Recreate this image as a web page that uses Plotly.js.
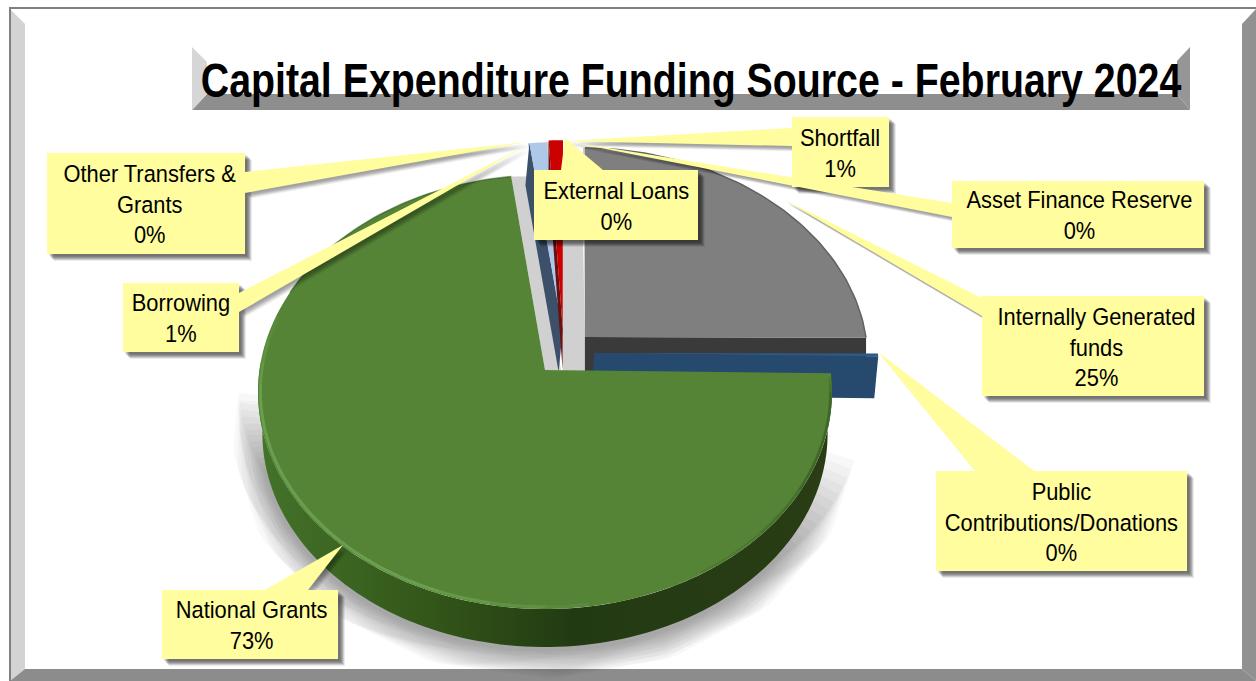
<!DOCTYPE html>
<html>
<head>
<meta charset="utf-8">
<script src="https://cdn.plot.ly/plotly-3.0.1.min.js"></script>
<style>html,body{margin:0;padding:0;background:#fff}#chart{width:1256px;height:681px}</style>
</head>
<body>
<div id="chart"></div>
<script>
// ---- data (clockwise from twelve o'clock) ----
const fundingSources = ['Internally Generated<br>funds', 'Public<br>Contributions/Donations', 'National Grants',
  'Other Transfers &<br>Grants', 'Borrowing', 'External Loans', 'Shortfall', 'Asset Finance Reserve'];
const fundingShares = [24.8, 0.2, 72.6, 0.1, 1.1, 0.1, 0.9, 0.1];
const shareLabels = ['25%', '0%', '73%', '0%', '1%', '0%', '1%', '0%'];

// ---- style: face colours, explosion offsets (pie radii) ----
const faceColors = ['#7f7f7f', '#2d5a86', '#558436', '#9dc3e6', '#aec8e8', '#c5c5c5', '#cc0000', '#bdbdbd'];
const explodeRight = [0.142, 0.175, 0, 0.063, 0.063, 0.063, 0.063, 0.142];
const explodeUp = [0.156, 0.08, 0, 0.19, 0.19, 0.19, 0.20, 0.156];

// ---- label boxes: x0, y0, x1, y1 then callout triangle ----
const labelBoxes = [
  [982, 296, 1204, 396], [936, 471, 1187, 571], [162, 590, 338, 659], [47, 153, 245, 254],
  [123, 283, 239, 352], [534, 170, 698, 240], [792, 117, 889, 187], [952, 181, 1204, 248]];
const calloutTips = [
  [[982, 298], [982, 316], [783, 199]], [[975, 471], [1034, 471], [878, 352]], [[265, 590], [308, 590], [343, 545]],
  [[245, 172], [245, 193], [527, 142]], [[239, 293], [239, 312], [527, 145]], [[561, 170], [603, 170], [565, 138]],
  [[792, 128], [792, 146], [565, 141]], [[952, 203], [952, 217], [565, 141]]];
const labelNudge = [3.5, 0, 1.5, 3.5, 0, 0, -1, 1];
const labelOrder = [0, 1, 2, 3, 4, 7, 6, 5];
const labelFont = 'Liberation Sans, Arial, sans-serif';

// ---- tilted-disc projection used to place slices on the hidden pixel axes ----
const cx = 545, cy = 370, R = 285.5, H = 214.8, k = 0.1014, depth = 42, firstAngle = 0.8;
function project(u, v) { const w = 1 + k * v; return [cx + R * u / w, cy - H * v / w]; }
const total = fundingShares.reduce((a, b) => a + b, 0);
const startAngles = []; let running = 0;
fundingShares.forEach(s => { startAngles.push(firstAngle + running / total * 360); running += s; });
const endAngle = i => startAngles[i] + fundingShares[i] / total * 360;
const rad = d => d * Math.PI / 180;
function rimPoint(i, deg, rho = 1) {
  return project(explodeRight[i] + rho * Math.sin(rad(deg)), explodeUp[i] + rho * Math.cos(rad(deg)));
}
function arc(i, a, b, rho = 1) {
  const n = Math.max(2, Math.ceil(Math.abs(b - a) / 1.5)), pts = [];
  for (let j = 0; j <= n; j++) pts.push(rimPoint(i, a + (b - a) * j / n, rho));
  return pts;
}
const apex = i => rimPoint(i, 0, 0);
const shift = (pts, dx, dy) => pts.map(p => [p[0] + dx, p[1] + dy]);
function poly(pts, color, name, extra) {
  return Object.assign({ type: 'scatter', mode: 'none', fill: 'toself', fillcolor: color,
    x: pts.map(p => p[0]).concat(pts[0][0]), y: pts.map(p => p[1]).concat(pts[0][1]),
    name: name, hoverinfo: 'name' }, extra || {});
}
function stroke(pts, color, width, name) {
  return { type: 'scatter', mode: 'lines', x: pts.map(p => p[0]), y: pts.map(p => p[1]),
    line: { color: color, width: width }, name: name, hoverinfo: 'skip' };
}
function faceOf(i) {
  const name = fundingSources[i].replace('<br>', ' ') + ' ' + shareLabels[i];
  return poly([apex(i)].concat(arc(i, startAngles[i], endAngle(i))), faceColors[i], name);
}
function wallOf(i, deg, dx, dy, color, rho = 1) {
  const a = apex(i), r = rimPoint(i, deg, rho);
  return poly([a, r, [r[0] + dx, r[1] + dy], [a[0] + dx, a[1] + dy]], color, 'wall');
}

const [iInt, iPub, iNat, iOth, iBor, iExt, iSho, iAss] = [0, 1, 2, 3, 4, 5, 6, 7];
const natStart = startAngles[iNat], natEnd = endAngle(iNat);
const traces = [];
// soft shadow beneath the disc: wider strokes stop sooner so the ends fade out
for (let s = 0; s < 14; s++) {
  traces.push(stroke(shift(arc(iNat, 100 + (13 - s) * 2.2, 275 - (13 - s) * 1.5, 0.985), 0, depth + 2),
    'rgba(0,0,0,0.028)', 6 + s * 4, 'shadow'));
}
// internally generated
const strip = rimPoint(iInt, 0, 0.8);
traces.push(poly([apex(iInt), strip, [strip[0] - 22, strip[1]], [apex(iInt)[0] - 22, apex(iInt)[1] + 36],
  [apex(iInt)[0], apex(iInt)[1] + 36]], '#d0d0d0', 'wall'));
traces.push(wallOf(iInt, endAngle(iInt), 0, depth, '#3a3a3a'));
traces.push(faceOf(iInt));
traces.push(stroke(arc(iInt, startAngles[iInt], endAngle(iInt)), '#626262', 1.5, 'rim'));
// public contributions
traces.push(wallOf(iPub, endAngle(iPub), -4, depth, '#264a6e'));
traces.push(faceOf(iPub));
// end wall of the national grants slice
traces.push(wallOf(iNat, natEnd, 16, 0, '#d0d0d0'));
// borrowing, loans, shortfall
traces.push(faceOf(iOth));
traces.push(wallOf(iBor, startAngles[iBor], -4, depth, '#3c5169'));
traces.push(faceOf(iBor));
traces.push(faceOf(iExt));
traces.push(wallOf(iSho, startAngles[iSho], 0, depth, '#6b0f0f'));
traces.push(faceOf(iSho));
traces.push(faceOf(iAss));
// national grants
const natFront = arc(iNat, natStart, 272);
const natLower = shift(arc(iNat, natStart, 272, 0.985), 0, depth);
traces.push(poly(natFront.concat(natLower.reverse()), '#2a3f16', 'wall', {
  fillgradient: { type: 'horizontal', colorscale: [[0, '#44732a'], [0.3, '#335619'], [0.55, '#223a12'], [1, '#2a3d15']] }
}));
traces.push(faceOf(iNat));
[[172, 285, 0.12], [180, 278, 0.14], [190, 272, 0.16], [200, 266, 0.18]].forEach(h =>
  traces.push(stroke(arc(iNat, h[0], h[1], 0.992), 'rgba(128,190,105,' + h[2] + ')', 3, 'rim')));
[[92, 150, 0.16], [94, 135, 0.18], [96, 122, 0.2]].forEach(h =>
  traces.push(stroke(arc(iNat, h[0], h[1], 0.995), 'rgba(40,70,25,' + h[2] + ')', 2.5, 'rim')));
traces.push(stroke(arc(iNat, 292, natEnd), 'rgba(50,85,30,0.55)', 1.5, 'rim'));

// ---- frame, title plate, callouts ----
const polyPath = pts => 'M' + pts.map(p => p[0] + ',' + p[1]).join('L') + 'Z';
const flat = (pts, color, layer) => ({ type: 'path', path: polyPath(pts), fillcolor: color,
  line: { width: 0 }, layer: layer || 'below', xref: 'x', yref: 'y' });
const shapes = [
  flat([[10, 9], [25, 24], [25, 669], [10, 681]], '#d3d3d3'),
  flat([[1256, 9], [1242, 24], [1242, 669], [1256, 681]], '#919191'),
  flat([[10, 681], [25, 669], [1242, 669], [1256, 681]], '#8c8c8c'),
  flat([[9, 7], [1256, 7], [1256, 9], [9, 9]], '#808080'),
  flat([[9, 7], [11, 7], [11, 681], [9, 681]], '#808080'),
  flat([[192, 110], [207, 94], [1177, 94], [1190, 110]], '#8e8e8e'),
  flat([[1190, 47], [1177, 61], [1177, 94], [1190, 110]], '#969696'),
  flat([[192, 47], [207, 62], [207, 94], [192, 110]], '#d6d6d6')
];
const annotations = [];
labelOrder.forEach(i => {
  const b = labelBoxes[i], t = calloutTips[i];
  const rect = [[b[0], b[1]], [b[2], b[1]], [b[2], b[3]], [b[0], b[3]]];
  [[2, 2, .10], [3, 3, .12], [4, 4, .14], [5, 5, .16], [6, 6, .12], [7, 7, .08]].forEach(s => {
    shapes.push(flat(shift(rect, s[0], s[1]), 'rgba(0,0,0,' + s[2] + ')', 'above'));
    shapes.push(flat(shift(t, s[0] * .8, s[1] * .8), 'rgba(0,0,0,' + s[2] * .6 + ')', 'above'));
  });
});
labelOrder.forEach(i => {
  const b = labelBoxes[i], t = calloutTips[i];
  const rect = [[b[0], b[1]], [b[2], b[1]], [b[2], b[3]], [b[0], b[3]]];
  shapes.push(flat(t, '#FFFD9E', 'above'));
  shapes.push(flat(rect, '#FFFD9E', 'above'));
  annotations.push({ xref: 'x', yref: 'y', x: (b[0] + b[2]) / 2 + labelNudge[i], y: (b[1] + b[3]) / 2 + 1,
    text: fundingSources[i] + '<br>' + shareLabels[i], showarrow: false, align: 'center',
    font: { family: labelFont, size: 23.5, color: '#000' } });
});

// the reference type is condensed and no narrow face is installed: squeeze the real text horizontally
function squeeze(el, sx) {
  const b = el.getBBox(), c = b.x + b.width / 2, old = el.getAttribute('transform') || '';
  el.setAttribute('transform', 'translate(' + c + ',0) scale(' + sx + ',1) translate(' + (-c) + ',0) ' + old);
}

Plotly.newPlot('chart', traces, {
  width: 1256, height: 681, margin: { l: 0, r: 0, t: 0, b: 0 }, showlegend: false,
  paper_bgcolor: '#fff', plot_bgcolor: '#fff',
  title: { text: '<b>Capital Expenditure Funding Source - February 2024</b>', x: 691 / 1256, xanchor: 'center',
    y: 1 - 80 / 681, yanchor: 'middle', font: { family: labelFont, size: 48, color: '#000' } },
  xaxis: { range: [0, 1256], visible: false, fixedrange: true },
  yaxis: { range: [681, 0], visible: false, fixedrange: true },
  shapes: shapes, annotations: annotations
}, { displayModeBar: false }).then(gd => {
  gd.querySelectorAll('.annotation-text').forEach(t => squeeze(t, 0.93));
  const title = gd.querySelector('.gtitle');
  if (title) {
    const b = title.getBBox();
    squeeze(title, 981 / b.width);
  }
});
</script>
</body>
</html>
